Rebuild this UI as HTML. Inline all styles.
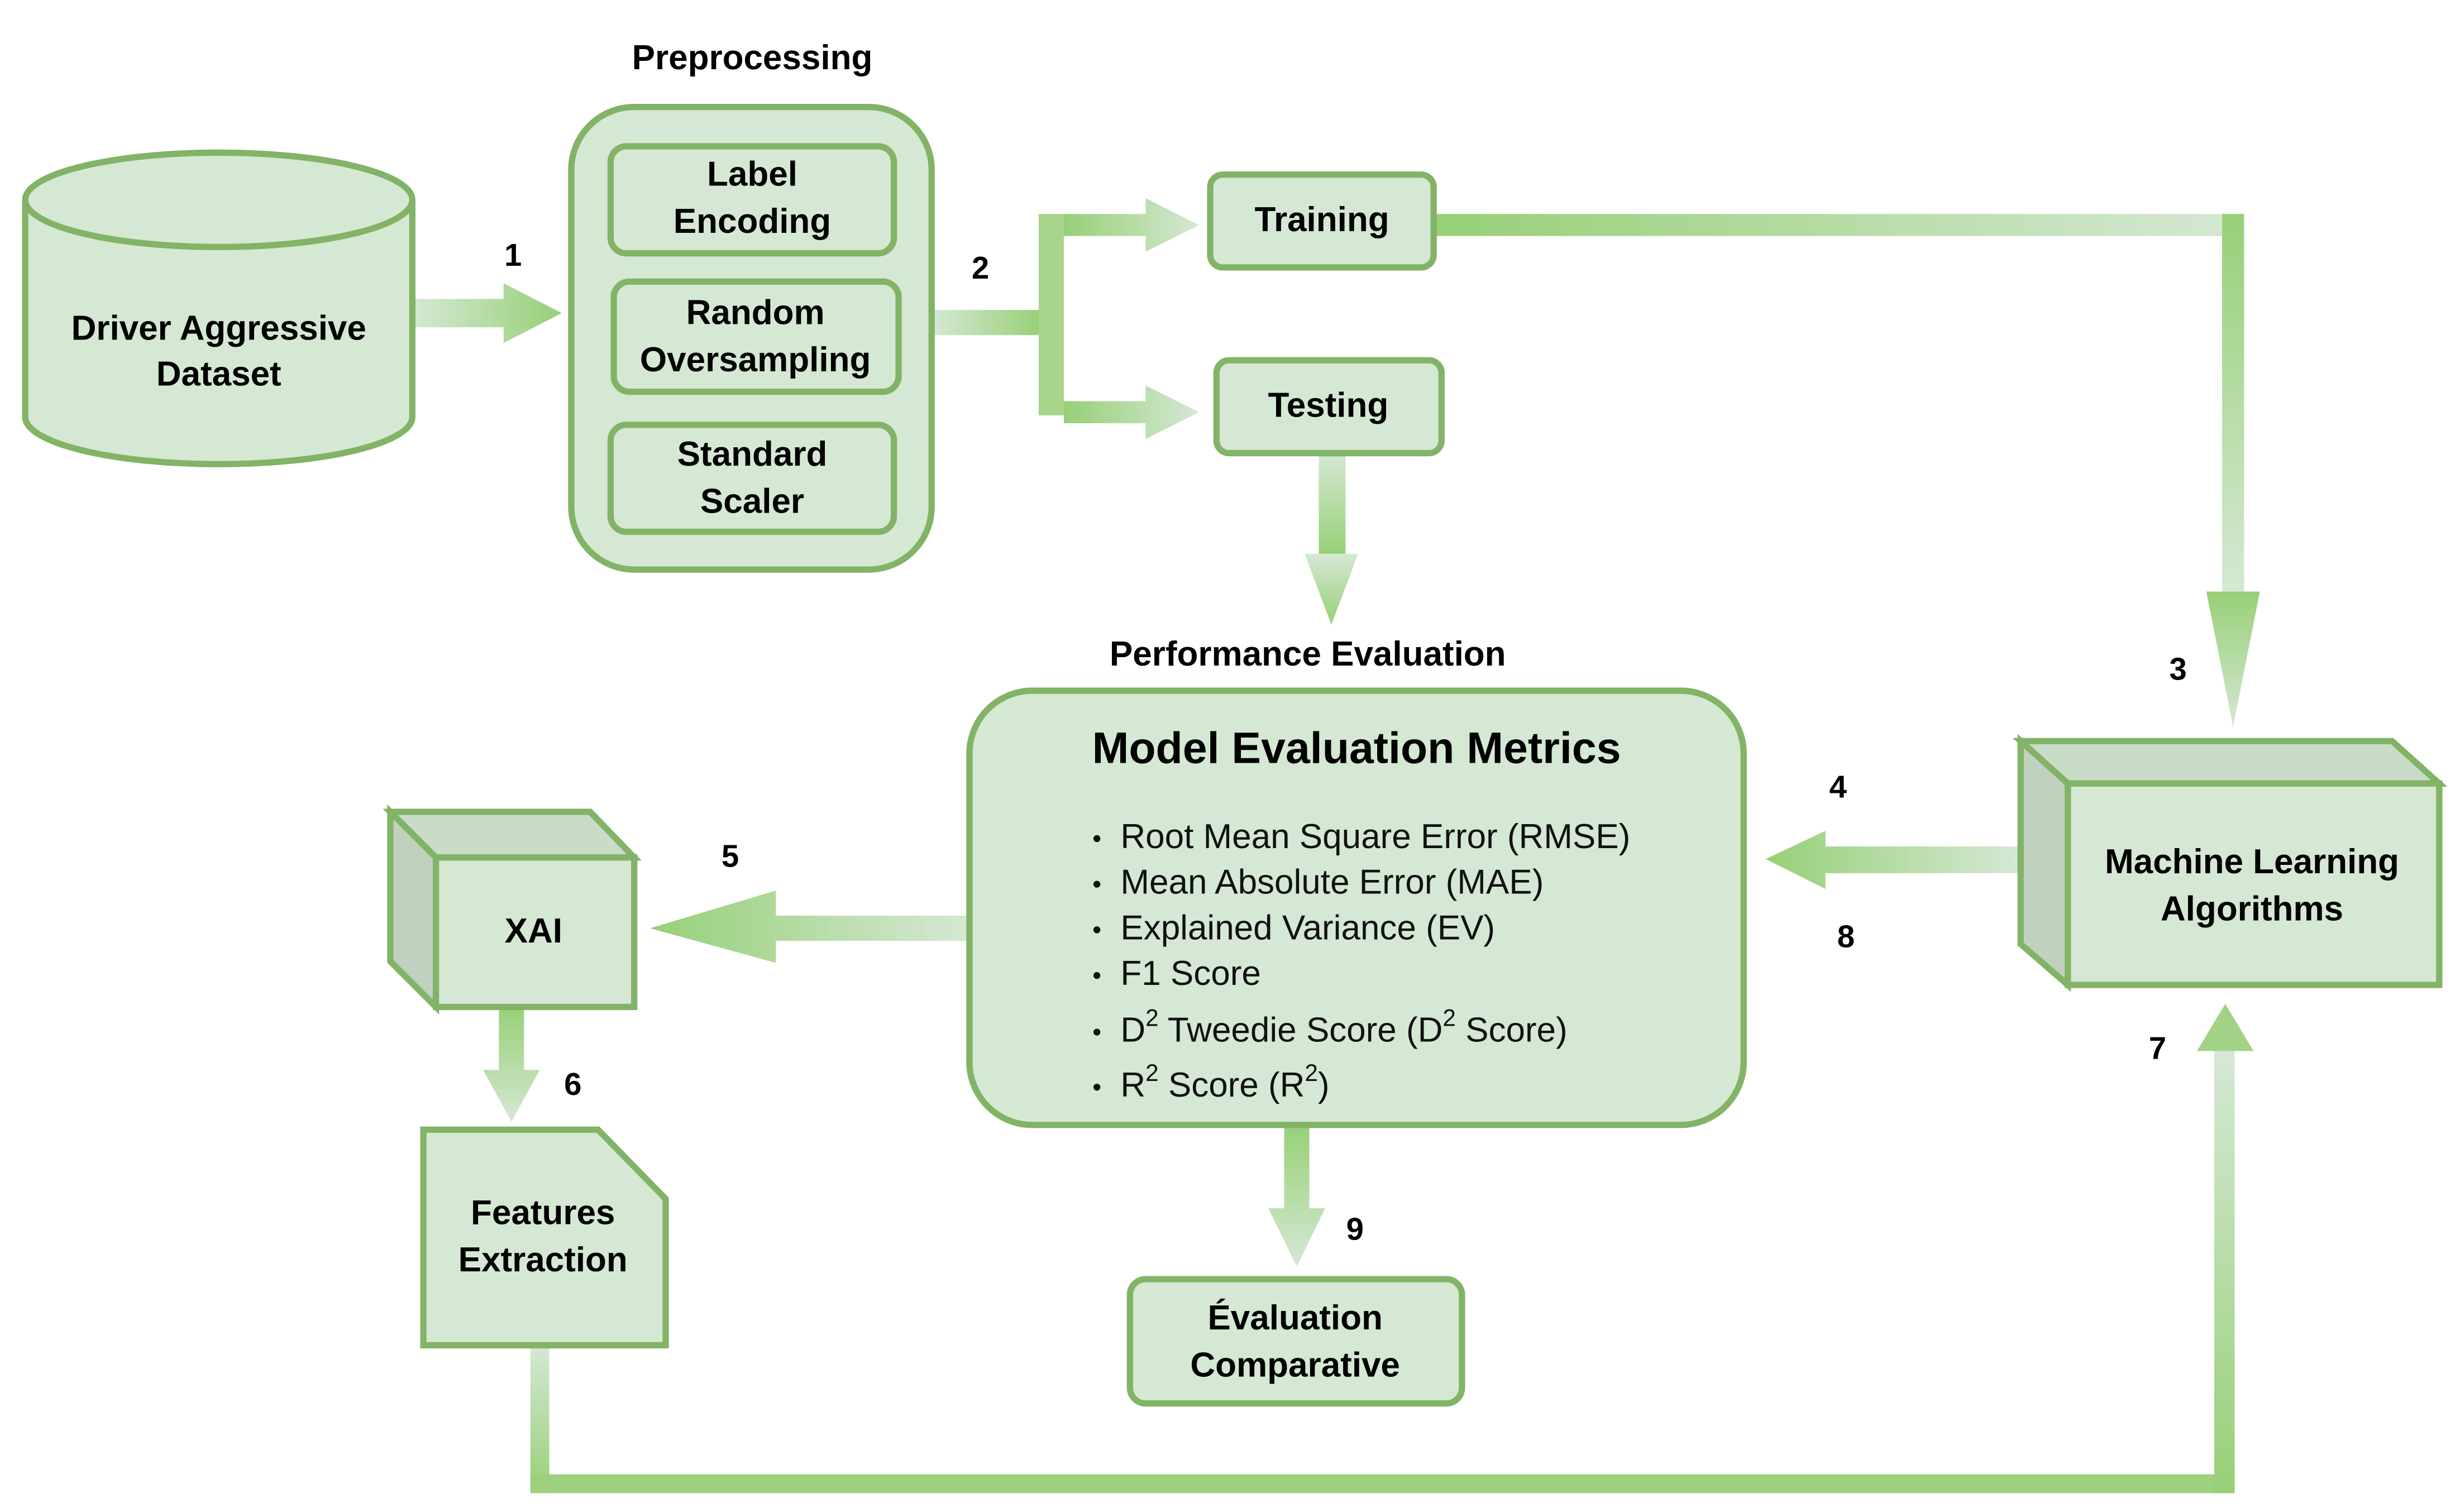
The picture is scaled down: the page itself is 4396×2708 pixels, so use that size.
<!DOCTYPE html>
<html><head><meta charset="utf-8"><style>html,body{margin:0;padding:0;background:#fff}svg{display:block}</style></head>
<body>
<svg width="4396" height="2708" viewBox="0 0 1560 961" xmlns="http://www.w3.org/2000/svg" font-family="Liberation Sans, Arial, sans-serif">
<defs>
<linearGradient id="gh" x1="0" y1="0" x2="1" y2="0"><stop offset="0" stop-color="#d5e8d4"/><stop offset="1" stop-color="#97d077"/></linearGradient>
<linearGradient id="ghr" x1="1" y1="0" x2="0" y2="0"><stop offset="0" stop-color="#d5e8d4"/><stop offset="1" stop-color="#97d077"/></linearGradient>
<linearGradient id="gv" x1="0" y1="0" x2="0" y2="1"><stop offset="0" stop-color="#d5e8d4"/><stop offset="1" stop-color="#97d077"/></linearGradient>
<linearGradient id="gvu" x1="0" y1="1" x2="0" y2="0"><stop offset="0" stop-color="#d5e8d4"/><stop offset="1" stop-color="#97d077"/></linearGradient>
</defs>
<g fill="#b3d99c">
<polygon points="262,190 320,190 320,180 357,199 320,218 320,208 262,208" fill="url(#gh)"/>
<rect x="592" y="197" width="70" height="16" fill="url(#gh)"/>
<rect x="660" y="136" width="16" height="128" fill="#a8d48c"/>
<polygon points="676,136 728,136 728,126 762,143 728,160 728,150 676,150" fill="url(#ghr)"/>
<polygon points="676,255 728,255 728,245 762,262 728,279 728,269 676,269" fill="url(#ghr)"/>
<rect x="911" y="136" width="515" height="14" fill="url(#ghr)"/>
<rect x="1412" y="136" width="14" height="240" fill="url(#gvu)"/>
<polygon points="1402,376 1436,376 1419,462" fill="url(#gvu)"/>
<rect x="838" y="288" width="17" height="64" fill="url(#gv)"/>
<polygon points="829,352 863,352 846,397" fill="url(#gv)"/>
<polygon points="1284,538 1160,538 1160,528 1122,546 1160,565 1160,555 1284,555" fill="url(#ghr)"/>
<polygon points="616,582 493,582 493,566 413,590 493,612 493,598 616,598" fill="url(#ghr)"/>
<polygon points="317,640 333,640 333,680 343,680 325,713 307,680 317,680" fill="url(#gvu)"/>
<polygon points="816,715 832,715 832,768 842,768 824,805 806,768 816,768" fill="url(#gvu)"/>
<rect x="337" y="855" width="12" height="94" fill="url(#gv)"/>
<rect x="337" y="937" width="1083" height="12" fill="#9fd080"/>
<rect x="1407" y="668" width="13" height="281" fill="url(#gv)"/>
<polygon points="1396,668 1432,668 1414,638" fill="#a3d286"/>
</g>
<g stroke="#82b366" stroke-width="4" fill="#d5e8d4">
<path d="M16,127 L16,265 A123,30 0 0 0 262,265 L262,127"/>
<ellipse cx="139" cy="127" rx="123" ry="30"/>
<rect x="363" y="68" width="229" height="294" rx="40"/>
<rect x="388" y="93" width="180" height="68" rx="10"/>
<rect x="390" y="179" width="181" height="70" rx="10"/>
<rect x="388" y="270" width="180" height="68" rx="10"/>
<rect x="769" y="111" width="142" height="59" rx="8"/>
<rect x="773" y="229" width="143" height="59" rx="8"/>
<rect x="616" y="439" width="492" height="276" rx="40"/>
<rect x="718" y="813" width="211" height="79" rx="10"/>
<polygon points="1284,471 1520,471 1550,498 1314,498" fill="#c9dcc8"/>
<polygon points="1284,471 1314,498 1314,626 1284,600" fill="#c0d2bf"/>
<rect x="1314" y="498" width="236" height="128"/>
<polygon points="248,516 375,516 403,545 277,545" fill="#c9dcc8"/>
<polygon points="248,516 277,545 277,640 248,611" fill="#c0d2bf"/>
<rect x="277" y="545" width="126" height="95"/>
<polygon points="269,718 380,718 423,762 423,855 269,855"/>
</g>
<g font-weight="bold" font-size="22" text-anchor="middle" fill="#000">
<text x="139" y="216">Driver Aggressive</text>
<text x="139" y="245">Dataset</text>
<text x="478" y="44">Preprocessing</text>
<text x="478" y="118">Label</text>
<text x="478" y="148">Encoding</text>
<text x="480" y="206">Random</text>
<text x="480" y="236">Oversampling</text>
<text x="478" y="296">Standard</text>
<text x="478" y="326">Scaler</text>
<text x="840" y="147">Training</text>
<text x="844" y="265">Testing</text>
<text x="831" y="423">Performance Evaluation</text>
<text x="862" y="485" font-size="28">Model Evaluation Metrics</text>
<text x="1431" y="555">Machine Learning</text>
<text x="1431" y="585">Algorithms</text>
<text x="339" y="599">XAI</text>
<text x="345" y="778">Features</text>
<text x="345" y="808">Extraction</text>
<text x="823" y="845">Évaluation</text>
<text x="823" y="875">Comparative</text>
<text x="326" y="169" font-size="20">1</text>
<text x="623" y="177" font-size="20">2</text>
<text x="1384" y="432" font-size="20">3</text>
<text x="1168" y="507" font-size="20">4</text>
<text x="1173" y="602" font-size="20">8</text>
<text x="464" y="551" font-size="20">5</text>
<text x="364" y="696" font-size="20">6</text>
<text x="861" y="788" font-size="20">9</text>
<text x="1371" y="673" font-size="20">7</text>
</g>
<g font-size="22" fill="#111">
<text x="712" y="539">Root Mean Square Error (RMSE)</text>
<text x="712" y="568">Mean Absolute Error (MAE)</text>
<text x="712" y="597">Explained Variance (EV)</text>
<text x="712" y="626">F1 Score</text>
<text x="712" y="662">D<tspan font-size="15" dy="-10">2</tspan><tspan dy="10"> Tweedie Score (D</tspan><tspan font-size="15" dy="-10">2</tspan><tspan dy="10"> Score)</tspan></text>
<text x="712" y="697">R<tspan font-size="15" dy="-10">2</tspan><tspan dy="10"> Score (R</tspan><tspan font-size="15" dy="-10">2</tspan><tspan dy="10">)</tspan></text>
</g>
<g fill="#111">
<circle cx="697" cy="533" r="2.2"/><circle cx="697" cy="562" r="2.2"/><circle cx="697" cy="591" r="2.2"/>
<circle cx="697" cy="620" r="2.2"/><circle cx="697" cy="656" r="2.2"/><circle cx="697" cy="691" r="2.2"/>
</g>
</svg>
</body></html>
